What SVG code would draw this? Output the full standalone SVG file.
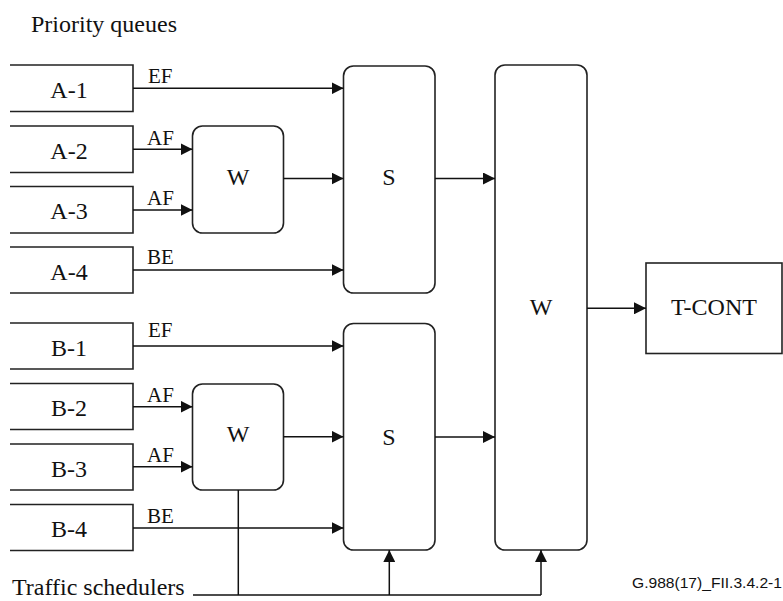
<svg xmlns="http://www.w3.org/2000/svg" width="783" height="601" viewBox="0 0 783 601">
<defs>
<marker id="arr" markerUnits="userSpaceOnUse" markerWidth="12" markerHeight="12" refX="12" refY="6" orient="auto">
<path d="M0,0 L12,6 L0,12 z" fill="#111"/>
</marker>
<style>
.q{fill:#fff;stroke:#222;stroke-width:1.6}
.b{fill:#fff;stroke:#222;stroke-width:1.6}
.c{fill:none;stroke:#111;stroke-width:1.5}
.a{marker-end:url(#arr)}
.t{font-family:"Liberation Serif","Times New Roman",serif;font-size:24px;fill:#111}
.m{text-anchor:middle}
.l{font-family:"Liberation Serif","Times New Roman",serif;font-size:21px;fill:#111}
.f{font-family:"Liberation Sans",Arial,sans-serif;font-size:15px;fill:#111}
</style>
</defs>
<rect width="783" height="601" fill="#fff"/>
<text class="t" x="31" y="32">Priority queues</text>
<text class="t" x="12" y="595">Traffic schedulers</text>
<text class="f" x="632" y="588" textLength="150" lengthAdjust="spacingAndGlyphs">G.988(17)_FII.3.4.2-1</text>

<g id="A-1"><path class="q" d="M10,65 H133 V111.5 H10"/><text class="t m" x="69" y="98">A-1</text></g>
<g id="A-2"><path class="q" d="M10,126 H133 V172.5 H10"/><text class="t m" x="69" y="158.5">A-2</text></g>
<g id="A-3"><path class="q" d="M10,186.5 H133 V233 H10"/><text class="t m" x="69" y="219">A-3</text></g>
<g id="A-4"><path class="q" d="M10,247 H133 V293 H10"/><text class="t m" x="69" y="279.5">A-4</text></g>
<g id="B-1"><path class="q" d="M10,323 H133 V369 H10"/><text class="t m" x="69" y="355.5">B-1</text></g>
<g id="B-2"><path class="q" d="M10,383.5 H133 V429.5 H10"/><text class="t m" x="69" y="416">B-2</text></g>
<g id="B-3"><path class="q" d="M10,444 H133 V490 H10"/><text class="t m" x="69" y="476.5">B-3</text></g>
<g id="B-4"><path class="q" d="M10,504.5 H133 V550.5 H10"/><text class="t m" x="69" y="537">B-4</text></g>

<g id="WA"><rect class="b" x="192.5" y="126" width="91" height="107" rx="10"/><text class="t m" x="238" y="185">W</text></g>
<g id="WB"><rect class="b" x="192.5" y="384" width="91" height="106" rx="10"/><text class="t m" x="238" y="442">W</text></g>
<g id="SA"><rect class="b" x="343.5" y="66" width="91.5" height="227" rx="10"/><text class="t m" x="389" y="185">S</text></g>
<g id="SB"><rect class="b" x="343.5" y="323.5" width="91.5" height="226.5" rx="10"/><text class="t m" x="389" y="445">S</text></g>
<g id="WBig"><rect class="b" x="495" y="65" width="92" height="485" rx="10"/><text class="t m" x="541" y="315">W</text></g>
<g id="TCONT"><rect class="b" x="646" y="263" width="136" height="90.5"/><text class="t m" x="714" y="315">T-CONT</text></g>

<g id="connectors">
<line class="c a" x1="133" y1="88.3" x2="343.5" y2="88.3"/>
<line class="c a" x1="133" y1="149.3" x2="192.5" y2="149.3"/>
<line class="c a" x1="133" y1="210" x2="192.5" y2="210"/>
<line class="c a" x1="133" y1="270" x2="343.5" y2="270"/>
<line class="c a" x1="283.5" y1="178.5" x2="343.5" y2="178.5"/>
<line class="c a" x1="435" y1="178.5" x2="495" y2="178.5"/>
<line class="c a" x1="133" y1="346" x2="343.5" y2="346"/>
<line class="c a" x1="133" y1="406.7" x2="192.5" y2="406.7"/>
<line class="c a" x1="133" y1="466.7" x2="192.5" y2="466.7"/>
<line class="c a" x1="133" y1="528" x2="343.5" y2="528"/>
<line class="c a" x1="283.5" y1="436.7" x2="343.5" y2="436.7"/>
<line class="c a" x1="435" y1="437" x2="495" y2="437"/>
<line class="c a" x1="587" y1="308.3" x2="646" y2="308.3"/>
<line class="c" x1="193" y1="595" x2="541" y2="595"/>
<line class="c" x1="238.3" y1="490" x2="238.3" y2="595"/>
<line class="c a" x1="389.3" y1="595" x2="389.3" y2="550"/>
<line class="c a" x1="541" y1="595" x2="541" y2="550"/>
<text class="l" x="148" y="83">EF</text>
<text class="l" x="147" y="145">AF</text>
<text class="l" x="147" y="205">AF</text>
<text class="l" x="147" y="264">BE</text>
<text class="l" x="148" y="336.5">EF</text>
<text class="l" x="147" y="401.5">AF</text>
<text class="l" x="147" y="462">AF</text>
<text class="l" x="147" y="522.5">BE</text>
</g>
</svg>
